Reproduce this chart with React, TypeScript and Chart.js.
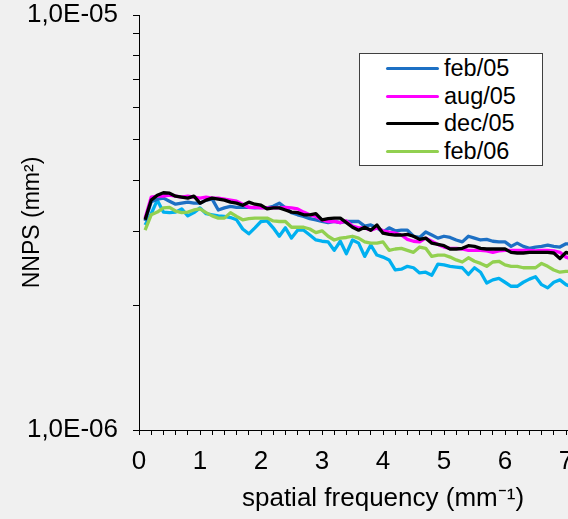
import React, { useEffect, useRef } from "react";
import { Chart, registerables } from "chart.js";

Chart.register(...registerables);

// spatial frequency (mm^-1)
const FREQ = [
  0.1, 0.2, 0.3, 0.4, 0.5, 0.6, 0.7, 0.8, 0.9, 1.0,
  1.1, 1.2, 1.3, 1.4, 1.5, 1.6, 1.7, 1.8, 1.9, 2.0,
  2.1, 2.2, 2.3, 2.4, 2.5, 2.6, 2.7, 2.8, 2.9, 3.0,
  3.1, 3.2, 3.3, 3.4, 3.5, 3.6, 3.7, 3.8, 3.9, 4.0,
  4.1, 4.2, 4.3, 4.4, 4.5, 4.6, 4.7, 4.8, 4.9, 5.0,
  5.1, 5.2, 5.3, 5.4, 5.5, 5.6, 5.7, 5.8, 5.9, 6.0,
  6.1, 6.2, 6.3, 6.4, 6.5, 6.6, 6.7, 6.8, 6.9, 7.0,
  7.1,
];

// NNPS values in units of 1e-6 mm^2
const UNIT = 1e-6;

const FEB05 = [
  3.19, 3.55, 3.60, 3.62, 3.56, 3.50, 3.52, 3.54, 3.52, 3.52,
  3.58, 3.60, 3.39, 3.43, 3.46, 3.44, 3.44, 3.44, 3.43, 3.44,
  3.43, 3.46, 3.52, 3.43, 3.34, 3.30, 3.27, 3.23, 3.21, 3.18,
  3.16, 3.18, 3.16, 3.18, 3.18, 3.18, 3.10, 3.12, 3.07, 3.00,
  3.07, 3.02, 3.03, 3.03, 2.93, 2.91, 3.00, 2.95, 2.90, 2.93,
  2.91, 2.87, 2.84, 2.93, 2.90, 2.87, 2.88, 2.85, 2.84, 2.84,
  2.77, 2.82, 2.77, 2.74, 2.76, 2.77, 2.79, 2.77, 2.76, 2.81,
  2.81,
];

const AUG05 = [
  3.24, 3.64, 3.66, 3.66, 3.68, 3.66, 3.64, 3.66, 3.64, 3.62,
  3.64, 3.62, 3.62, 3.60, 3.58, 3.56, 3.50, 3.44, 3.44, 3.43,
  3.43, 3.43, 3.43, 3.44, 3.43, 3.41, 3.35, 3.30, 3.27, 3.21,
  3.18, 3.18, 3.16, 3.19, 3.10, 3.07, 3.07, 3.03, 3.07, 3.02,
  3.00, 2.98, 2.95, 2.88, 2.85, 2.84, 2.90, 2.85, 2.80, 2.76,
  2.74, 2.74, 2.73, 2.71, 2.71, 2.71, 2.70, 2.68, 2.70, 2.71,
  2.71, 2.71, 2.71, 2.71, 2.70, 2.71, 2.71, 2.70, 2.68, 2.61,
  2.58,
];

const DEC05 = [
  3.21, 3.58, 3.68, 3.73, 3.72, 3.66, 3.64, 3.62, 3.66, 3.52,
  3.58, 3.62, 3.60, 3.58, 3.54, 3.52, 3.48, 3.54, 3.50, 3.48,
  3.41, 3.43, 3.43, 3.39, 3.35, 3.34, 3.30, 3.30, 3.32, 3.21,
  3.23, 3.24, 3.24, 3.16, 3.08, 3.03, 3.08, 3.03, 3.12, 2.98,
  2.96, 2.95, 2.95, 2.96, 2.93, 2.88, 2.90, 2.82, 2.80, 2.78,
  2.73, 2.73, 2.74, 2.78, 2.77, 2.74, 2.73, 2.73, 2.73, 2.73,
  2.68, 2.67, 2.67, 2.68, 2.68, 2.68, 2.68, 2.67, 2.59, 2.68,
  2.65,
];

const FEB06 = [
  3.03, 3.30, 3.35, 3.43, 3.44, 3.37, 3.34, 3.35, 3.39, 3.41,
  3.34, 3.28, 3.24, 3.24, 3.34, 3.27, 3.21, 3.23, 3.24, 3.24,
  3.24, 3.19, 3.18, 3.18, 3.08, 3.08, 3.08, 3.05, 2.99, 3.02,
  2.93, 2.87, 2.90, 2.91, 2.93, 2.90, 2.84, 2.82, 2.82, 2.84,
  2.71, 2.73, 2.74, 2.71, 2.68, 2.76, 2.74, 2.62, 2.64, 2.64,
  2.61, 2.57, 2.54, 2.60, 2.55, 2.52, 2.48, 2.54, 2.55, 2.50,
  2.48, 2.48, 2.46, 2.46, 2.46, 2.52, 2.48, 2.43, 2.40, 2.41,
  2.41,
];

// unlabeled (not in legend) light-blue series
const EXTRA = [
  3.12, 3.32, 3.58, 3.35, 3.34, 3.35, 3.41, 3.28, 3.34, 3.43,
  3.32, 3.30, 3.28, 3.27, 3.25, 3.21, 3.05, 2.97, 3.07, 3.18,
  3.19, 3.07, 2.93, 3.07, 2.90, 3.03, 3.03, 2.95, 2.87, 2.85,
  2.84, 2.71, 2.85, 2.66, 2.87, 2.82, 2.62, 2.79, 2.64, 2.61,
  2.57, 2.43, 2.44, 2.48, 2.46, 2.39, 2.40, 2.36, 2.51, 2.50,
  2.48, 2.47, 2.46, 2.37, 2.46, 2.40, 2.26, 2.30, 2.32, 2.27,
  2.22, 2.22, 2.27, 2.31, 2.34, 2.24, 2.20, 2.27, 2.30, 2.24,
  2.21,
];

const LEGEND_LABELS = ["feb/05", "aug/05", "dec/05", "feb/06"];
const Y_TICKS = [1e-6, 2e-6, 3e-6, 4e-6, 5e-6, 6e-6, 7e-6, 8e-6, 9e-6, 1e-5];
const Y_LABEL_MIN = "1,0E-06";
const Y_LABEL_MAX = "1,0E-05";
const X_MIN = 0;
const X_MAX = 8; // the picture is cropped just after 7
const X_TITLE = "spatial frequency (mm\u207B\u00B9)";
const Y_TITLE = "NNPS (mm\u00B2)";

const FONT = "'Liberation Sans', Arial, Helvetica, sans-serif";
const TICK_FONT_SIZE = 26;
const X_TITLE_SIZE = 26;
const Y_TITLE_SIZE = 23;
const LEGEND_FONT_SIZE = 23.5;

const SERIES = [
  { label: "feb/05", values: FEB05, color: "#1D70C4", order: 2 },
  { label: "aug/05", values: AUG05, color: "#FF00FF", order: 1 },
  { label: "dec/05", values: DEC05, color: "#000000", order: 0 },
  { label: "feb/06", values: FEB06, color: "#92D050", order: 3 },
  { label: "", values: EXTRA, color: "#00B0F0", order: 4 },
];

const CANVAS_W = 640;
const CANVAS_H = 519;

export default function App() {
  const canvasRef = useRef<HTMLCanvasElement | null>(null);

  useEffect(() => {
    if (!canvasRef.current) return;
    const chart = new Chart(canvasRef.current, {
      type: "line",
      data: {
        datasets: SERIES.map((s) => ({
          label: s.label,
          data: FREQ.map((f, i) => ({ x: f, y: s.values[i] * UNIT })),
          borderColor: s.color,
          backgroundColor: s.color,
          borderWidth: 3.3,
          borderJoinStyle: "round" as const,
          pointRadius: 0,
          tension: 0,
          fill: false,
          order: s.order,
        })),
      },
      options: {
        animation: false,
        responsive: false,
        maintainAspectRatio: false,
        layout: { padding: { left: 0, top: 15, right: 13, bottom: 0 } },
        plugins: {
          legend: { display: false },
          tooltip: { enabled: false },
        },
        scales: {
          x: {
            type: "linear",
            min: X_MIN,
            max: X_MAX,
            afterBuildTicks: (scale: any) => {
              const t = [];
              for (let i = 0; i <= 40; i++) t.push({ value: i / 5 });
              scale.ticks = t;
            },
            afterFit: (scale: any) => {
              scale.height = 89;
              scale.paddingLeft = 0;
              scale.paddingRight = 0;
            },
            ticks: {
              autoSkip: false,
              maxRotation: 0,
              color: "#000",
              font: { family: FONT, size: TICK_FONT_SIZE },
              padding: 11,
              callback: (v: any) => {
                const n = Number(v);
                return Math.abs(n - Math.round(n)) < 1e-6 ? String(Math.round(n)) : "";
              },
            },
            grid: {
              drawOnChartArea: false,
              drawTicks: true,
              tickLength: 5,
              color: "#000",
            },
            border: { display: true, color: "#000", width: 1 },
            title: {
              display: true,
              text: X_TITLE,
              color: "#000",
              font: { family: FONT, size: X_TITLE_SIZE },
              padding: { top: 0, bottom: 5 },
            },
          },
          y: {
            type: "logarithmic",
            min: 1e-6,
            max: 1e-5,
            afterBuildTicks: (scale: any) => {
              scale.ticks = Y_TICKS.map((v) => ({ value: v }));
            },
            afterFit: (scale: any) => {
              scale.width = 139;
              scale.paddingTop = 0;
              scale.paddingBottom = 0;
            },
            ticks: {
              autoSkip: false,
              color: "#000",
              font: { family: FONT, size: TICK_FONT_SIZE },
              padding: 15,
              callback: (v: any) => {
                const n = Number(v);
                if (Math.abs(n / 1e-6 - 1) < 1e-6) return Y_LABEL_MIN;
                if (Math.abs(n / 1e-5 - 1) < 1e-6) return Y_LABEL_MAX;
                return "";
              },
            },
            grid: {
              drawOnChartArea: false,
              drawTicks: true,
              tickLength: 6,
              color: "#000",
            },
            border: { display: true, color: "#000", width: 1 },
            title: {
              display: true,
              text: Y_TITLE,
              color: "#000",
              font: { family: FONT, size: Y_TITLE_SIZE },
              padding: { top: 19, bottom: 0 },
            },
          },
        },
      },
    });
    return () => chart.destroy();
  }, []);

  const legendColors = SERIES.slice(0, 4).map((s) => s.color);

  return (
    <div
      style={{
        position: "absolute",
        left: 0,
        top: 0,
        width: 568,
        height: 519,
        background: "#F0F0F0",
        overflow: "hidden",
      }}
    >
      <canvas
        ref={canvasRef}
        width={CANVAS_W}
        height={CANVAS_H}
        style={{ display: "block", width: CANVAS_W, height: CANVAS_H }}
      />
      <div
        style={{
          position: "absolute",
          left: 359,
          top: 53,
          width: 182,
          height: 111,
          background: "#FFFFFF",
          border: "1px solid #404040",
          fontFamily: FONT,
          fontSize: LEGEND_FONT_SIZE,
          color: "#000",
        }}
      >
        {LEGEND_LABELS.map((lab, i) => (
          <div
            key={lab}
            style={{
              position: "absolute",
              left: 0,
              top: 1 + i * 27.5,
              height: 27.5,
              display: "flex",
              alignItems: "center",
            }}
          >
            <div
              style={{
                marginLeft: 26,
                width: 53,
                height: 3,
                borderRadius: 1.5,
                background: legendColors[i],
              }}
            />
            <span style={{ marginLeft: 5, lineHeight: "27.5px" }}>{lab}</span>
          </div>
        ))}
      </div>
    </div>
  );
}
